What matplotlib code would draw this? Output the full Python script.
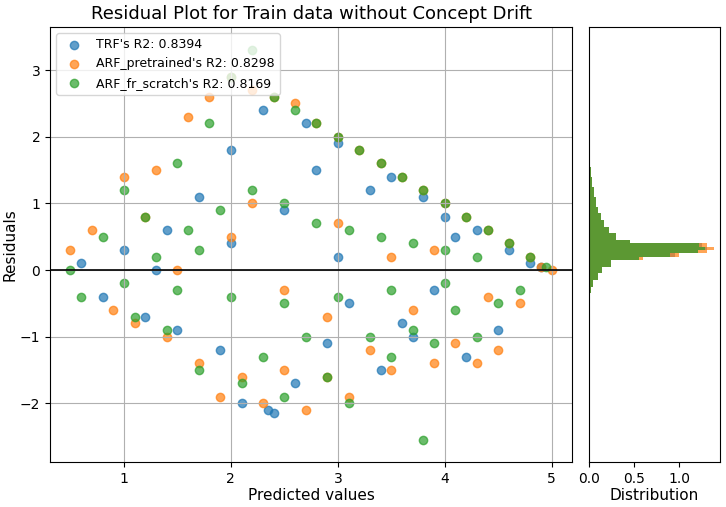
import numpy as np
import matplotlib.pyplot as plt

# scatter samples (predicted, residual)
trf_pred = [0.6, 0.8, 1.0, 1.2, 1.4, 1.5, 1.7, 1.9, 2.0, 2.1, 2.3, 2.4, 2.5, 2.6, 2.8, 2.9,
            3.0, 3.1, 3.3, 3.4, 3.5, 3.6, 3.8, 3.9, 4.0, 4.2, 4.3, 4.5, 4.6, 4.8, 4.9, 2.35,
            2.0, 3.0, 3.7, 1.3, 4.1, 2.7]
trf_res = [0.1, -0.4, 0.3, -0.7, 0.6, -0.9, 1.1, -1.2, 1.8, -2.0, 2.4, -2.15, 0.9, -1.7, 1.5,
           -1.1, 1.9, -0.5, 1.2, -1.5, 1.4, -0.8, 1.1, -0.3, 0.8, -1.3, 0.6, -0.9, 0.3, 0.1, 0.05,
           -2.1, 0.4, 0.2, -1.0, 0.0, 0.5, 2.2]
arf_pre_pred = [0.5, 0.7, 0.9, 1.0, 1.1, 1.3, 1.4, 1.6, 1.7, 1.8, 1.9, 2.0, 2.1, 2.2, 2.3, 2.4,
                2.5, 2.6, 2.7, 2.8, 2.9, 3.0, 3.1, 3.2, 3.3, 3.4, 3.5, 3.6, 3.7, 3.8, 3.9, 4.0,
                4.1, 4.2, 4.3, 4.4, 4.5, 4.6, 4.7, 4.8, 4.9, 5.0, 2.0, 2.5, 3.0, 3.5, 1.5, 4.4,
                2.2, 2.9, 3.9, 1.2]
arf_pre_res = [0.3, 0.6, -0.6, 1.4, -0.8, 1.5, -1.0, 2.3, -1.4, 2.6, -1.9, 2.9, -1.6, 2.7, -2.0,
               2.6, -1.5, 2.5, -2.1, 2.2, -1.6, 2.0, -1.9, 1.8, -1.2, 1.6, -1.5, 1.4, -0.6, 1.2,
               -1.4, 1.0, -1.1, 0.8, -1.4, 0.6, -1.2, 0.4, -0.5, 0.2, 0.05, 0.0, 0.5, -0.3, 0.7,
               0.2, 0.0, -0.4, 1.0, -0.7, 0.3, 0.8]
arf_fs_pred = [0.5, 0.6, 0.8, 1.0, 1.1, 1.2, 1.4, 1.5, 1.7, 1.8, 2.0, 2.1, 2.2, 2.3, 2.4, 2.5,
               2.6, 2.7, 2.8, 2.9, 3.0, 3.1, 3.2, 3.3, 3.4, 3.5, 3.6, 3.7, 3.8, 3.9, 4.0, 4.1,
               4.2, 4.3, 4.4, 4.5, 4.6, 4.7, 4.8, 4.95, 1.3, 1.6, 1.9, 2.2, 2.5, 2.8, 3.1, 3.4,
               3.7, 4.0, 4.3, 1.0, 1.5, 2.0, 2.5, 3.0, 3.5, 4.0, 3.8, 1.7]
arf_fs_res = [0.0, -0.4, 0.5, 1.2, -0.7, 0.8, -0.9, 1.6, -1.5, 2.2, 2.9, -1.7, 3.3, -1.3, 2.6,
              -1.9, 2.4, -1.0, 2.2, -1.6, 2.0, -2.0, 1.8, -1.0, 1.6, -1.3, 1.4, -0.9, 1.2, -1.1,
              1.0, -0.6, 0.8, -1.0, 0.6, -0.5, 0.4, -0.3, 0.2, 0.05, 0.2, 0.6, 0.9, 1.2, 1.0,
              0.7, 0.6, 0.5, 0.4, 0.3, 0.2, -0.2, -0.3, -0.4, -0.5, -0.4, -0.3, -0.2, -2.55, 0.3]

labels = ["TRF's R2: 0.8394", "ARF_pretrained's R2: 0.8298", "ARF_fr_scratch's R2: 0.8169"]

# histogram densities
bin_edges = [-0.35, -0.25, -0.15, -0.05, 0.05, 0.15, 0.2, 0.25, 0.3, 0.35, 0.4, 0.45, 0.55,
             0.65, 0.75, 0.85, 0.95, 1.1, 1.25, 1.4, 1.55]
trf_dens = [0.02, 0.05, 0.1, 0.15, 0.25, 0.55, 0.95, 1.2, 1.3, 1.25, 0.45, 0.3, 0.22, 0.17,
            0.13, 0.1, 0.08, 0.06, 0.04, 0.02]
arf_pre_dens = [0.02, 0.05, 0.1, 0.15, 0.25, 0.6, 1.0, 1.3, 1.38, 1.3, 0.45, 0.3, 0.22, 0.17,
                0.13, 0.1, 0.08, 0.06, 0.04, 0.02]
arf_fs_dens = [0.02, 0.05, 0.1, 0.15, 0.25, 0.55, 0.9, 1.2, 1.28, 1.22, 0.45, 0.3, 0.22, 0.17,
               0.13, 0.1, 0.08, 0.06, 0.04, 0.02]

colors = ['#1f77b4', '#ff7f0e', '#2ca02c']

fig = plt.figure(figsize=(7.26, 5.07), dpi=100)
ax = fig.add_axes([0.069, 0.089, 0.719, 0.858])
axh = fig.add_axes([0.811, 0.089, 0.181, 0.858], sharey=ax)

series = [(trf_pred, trf_res), (arf_pre_pred, arf_pre_res), (arf_fs_pred, arf_fs_res)]
for (p, r), c, lab in zip(series, colors, labels):
    ax.scatter(p, r, color=c, alpha=0.7, s=36, label=lab)

ax.axhline(0, color='black', lw=1.2)
ax.set_xlim(0.31, 5.19)
ax.set_ylim(-2.88, 3.65)
ax.set_xticks([1, 2, 3, 4, 5])
ax.set_yticks([-2, -1, 0, 1, 2, 3])
ax.grid(True)
ax.set_xlabel('Predicted values', fontsize=11, labelpad=2)
ax.set_ylabel('Residuals', fontsize=11, labelpad=2)
ax.set_title('Residual Plot for Train data without Concept Drift', fontsize=13)
ax.tick_params(labelsize=10)
ax.legend(loc='upper left', fontsize=9)

edges = np.array(bin_edges)
for dens, c in zip([trf_dens, arf_pre_dens, arf_fs_dens], colors):
    axh.barh(edges[:-1], dens, height=np.diff(edges), align='edge', color=c, alpha=0.7)
axh.set_xlim(0, 1.45)
axh.set_xticks([0, 0.5, 1.0])
axh.set_xticklabels(['0.0', '0.5', '1.0'])
axh.tick_params(labelsize=10, left=False, labelleft=False)
axh.set_xlabel('Distribution', fontsize=11, labelpad=2)

fig.savefig('out.png', dpi=100)
